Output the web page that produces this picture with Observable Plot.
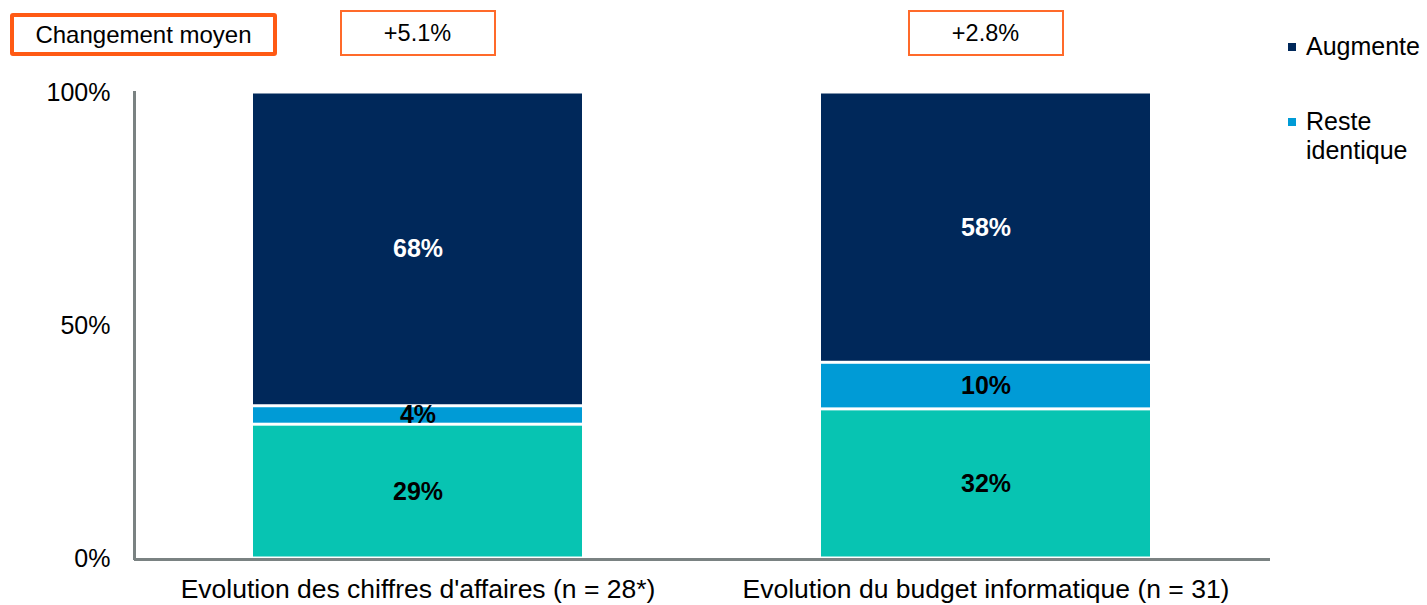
<!DOCTYPE html>
<html>
<head>
<meta charset="utf-8">
<script src="https://cdn.jsdelivr.net/npm/d3@7"></script>
<script src="https://cdn.jsdelivr.net/npm/@observablehq/plot@0.6"></script>
<style>
  html, body { margin: 0; padding: 0; background: #fff; }
  body { font-family: "Liberation Sans", Arial, sans-serif; color: #000; }
  #wrap { position: relative; width: 1427px; height: 605px; overflow: hidden; }
  #wrap svg { position: absolute; left: 0; top: 0; }
  .box { position: absolute; box-sizing: border-box; background: #fff; display: flex; align-items: center; justify-content: center; font-size: 24px; }
  .legend { position: absolute; left: 1288px; font-size: 25px; line-height: 29px; }
  .legend .item { position: absolute; left: 0; white-space: nowrap; }
  .legend .sw { position: absolute; left: 0; width: 8px; height: 8px; }
  .legend .lab { position: absolute; left: 18px; }
</style>
</head>
<body>
<div id="wrap"></div>
<script>
// ---- data ----
const categories = ["Evolution des chiffres d'affaires (n = 28*)", "Evolution du budget informatique (n = 31)"];
const seriesNames = ["Diminue", "Reste identique", "Augmente"];
const diminue = [29, 32];
const resteIdentique = [4, 10];
const augmente = [68, 58];
const changementMoyen = ["+5.1%", "+2.8%"];
const yTicks = [0, 0.5, 1];
const legendNames = ["Augmente", "Reste identique"];

const seriesValues = [diminue, resteIdentique, augmente];
const colors = ["#07c4b2", "#009bd6", "#00285a"];

const rows = [];
categories.forEach((c, i) => {
  seriesNames.forEach((s, j) => {
    rows.push({cat: c, series: s, value: seriesValues[j][i]});
  });
});

const stackOpts = {offset: "normalize", order: seriesNames};

const plot = Plot.plot({
  width: 1427,
  height: 605,
  marginLeft: 134,
  marginRight: 157,
  marginTop: 92,
  marginBottom: 47,
  style: {fontFamily: "'Liberation Sans', Arial, sans-serif", fontSize: "25px", color: "#000", background: "transparent"},
  x: {domain: categories, paddingInner: 0.42, paddingOuter: 0.21},
  y: {domain: [0, 1]},
  color: {domain: seriesNames, range: colors},
  marks: [
    Plot.barY(rows, Plot.stackY(stackOpts, {
      x: "cat", y: "value", fill: "series", insetTop: 1.5, insetBottom: 1.5
    })),
    Plot.text(rows, Plot.stackY(stackOpts, {
      x: "cat", y: "value", text: d => d.value + "%",
      fill: d => d.series === "Augmente" ? "#ffffff" : "#000000",
      fontWeight: "bold", fontSize: 25
    })),
    Plot.ruleY([0], {stroke: "#7a8282", strokeWidth: 3, dy: 1}),
    Plot.frame({anchor: "left", stroke: "#7a8282", strokeWidth: 3}),
    Plot.axisY({ticks: yTicks, tickFormat: d3.format(".0%"), tickSize: 0, tickPadding: 24, label: null, fontSize: 25}),
    Plot.axisX({tickSize: 0, tickPadding: 21, label: null, fontSize: 26.5})
  ]
});

const wrap = document.getElementById("wrap");
wrap.appendChild(plot);

// "Changement moyen" header box
const head = document.createElement("div");
head.className = "box";
Object.assign(head.style, {left: "10px", top: "13px", width: "267px", height: "43px", border: "4px solid #ff5a14", borderRadius: "3px"});
head.textContent = "Changement moyen";
wrap.appendChild(head);

// per-category change boxes positioned with the plot's x scale
const xs = plot.scale("x");
categories.forEach((c, i) => {
  const cx = xs.apply(c) + xs.bandwidth / 2;
  const b = document.createElement("div");
  b.className = "box";
  Object.assign(b.style, {left: (cx - 78) + "px", top: "10px", width: "156px", height: "46px", border: "2px solid #ff6a2a", fontSize: "23.5px"});
  b.textContent = changementMoyen[i];
  wrap.appendChild(b);
});

// legend
const leg = document.createElement("div");
leg.className = "legend";
leg.style.top = "0px";
const legTops = [32, 107];
legendNames.forEach((name, k) => {
  const it = document.createElement("div");
  it.className = "item";
  it.style.top = legTops[k] + "px";
  const sw = document.createElement("div");
  sw.className = "sw";
  sw.style.top = "11px";
  sw.style.background = colors[seriesNames.indexOf(name)];
  const lab = document.createElement("div");
  lab.className = "lab";
  lab.innerHTML = name === "Reste identique" ? "Reste<br>identique" : name;
  it.appendChild(sw);
  it.appendChild(lab);
  leg.appendChild(it);
});
wrap.appendChild(leg);
</script>
</body>
</html>
